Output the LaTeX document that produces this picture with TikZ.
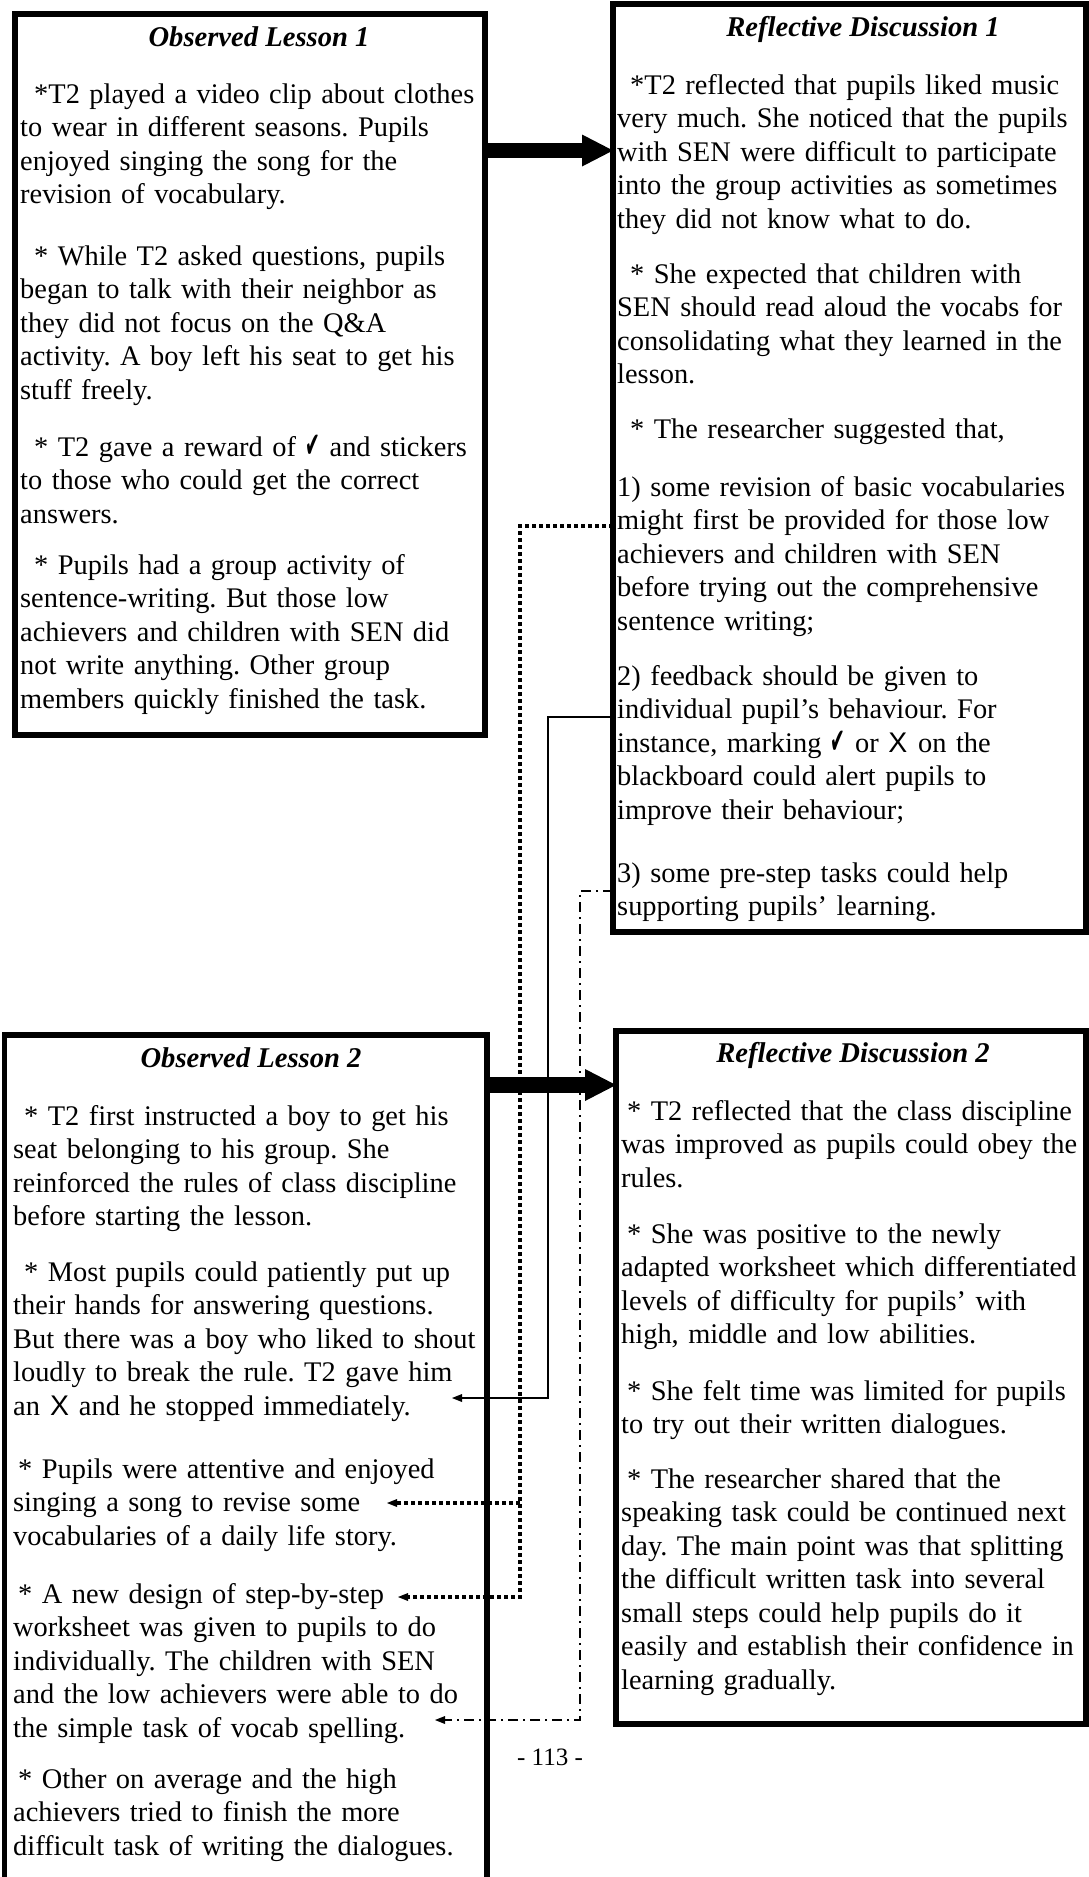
\documentclass[tikz,border=0pt]{standalone}
\usepackage{fontspec}
\usepackage{graphicx}
\setmainfont{Liberation Serif}[Ligatures=CommonOff]
\newfontfamily\symbolfamily{DejaVu Sans}
\newfontfamily\sansXfamily{Liberation Sans}
\usetikzlibrary{arrows.meta}
\frenchspacing

% tick and cross marks used in the notes
\newcommand{\markok}{\raisebox{-1pt}{\scalebox{0.62}[1.25]{\symbolfamily ✔}}}
\newcommand{\markx}{{\sansXfamily X}}

\begin{document}
\begin{tikzpicture}[x=1pt,y=-1pt,
  panel/.style={draw, line width=#1, inner sep=0pt, outer sep=0pt, anchor=north west},
  heading/.style={font=\fontsize{28.6pt}{33.5pt}\selectfont\bfseries\itshape, anchor=base, inner sep=0pt},
  para/.style={font=\fontsize{28.4pt}{33.5pt}\selectfont, anchor=base west, inner sep=0pt,
               text width=480pt, align=left},
  bigarrow/.style={line width=15.5pt, -{Triangle[length=31pt,width=32pt,line width=0pt]}},
  smalltip/.style={-{Triangle[length=10pt,width=8pt,line width=0pt]}},
  dotlink/.style={line width=3.6pt, dash pattern=on 3.6pt off 3.4pt},
  solidlink/.style={line width=1.3pt},
  dashdotlink/.style={line width=1.7pt, dash pattern=on 10pt off 5pt on 2pt off 5pt},
  pagenum/.style={font=\fontsize{25pt}{30pt}\selectfont, anchor=base, inner sep=0pt}
]
\useasboundingbox (0,0) rectangle (1089,1877);
\clip (0,0) rectangle (1089,1877);

% ---------- the four panels ----------
\node[panel=5.5pt, minimum width=470pt, minimum height=721pt] (ol1) at (15,14) {};
\node[panel=6pt, minimum width=473pt, minimum height=928pt] (rd1) at (613,4) {};
\node[panel=5.5pt, minimum width=482.5pt, minimum height=900pt] (ol2) at (4.5,1035) {};
\node[panel=6pt, minimum width=470pt, minimum height=693pt] (rd2) at (616,1031) {};

% ---------- Observed Lesson 1 ----------
\node[heading] (ol1t) at (259,46) {Observed Lesson 1};
\node[para] (ol1p1) at (20,103) {\hspace*{14pt}*T2 played a video clip about clothes\\
to wear in different seasons. Pupils\\
enjoyed singing the song for the\\
revision of vocabulary.};
\node[para] (ol1p2) at (20,265) {\hspace*{14pt}* While T2 asked questions, pupils\\
began to talk with their neighbor as\\
they did not focus on the Q\&A\\
activity. A boy left his seat to get his\\
stuff freely.};
\node[para] (ol1p3) at (20,456) {\hspace*{14pt}* T2 gave a reward of \markok{} and stickers\\
to those who could get the correct\\
answers.};
\node[para] (ol1p4) at (20,574) {\hspace*{14pt}* Pupils had a group activity of\\
sentence-writing. But those low\\
achievers and children with SEN did\\
not write anything. Other group\\
members quickly finished the task.};

% ---------- Reflective Discussion 1 ----------
\node[heading] (rd1t) at (863,36) {Reflective Discussion 1};
\node[para] (rd1p1) at (617,94) {\hspace*{13pt}*T2 reflected that pupils liked music\\
very much. She noticed that the pupils\\
with SEN were difficult to participate\\
into the group activities as sometimes\\
they did not know what to do.};
\node[para] (rd1p2) at (617,283) {\hspace*{13pt}* She expected that children with\\
SEN should read aloud the vocabs for\\
consolidating what they learned in the\\
lesson.};
\node[para] (rd1p3) at (617,438) {\hspace*{13pt}* The researcher suggested that,};
\node[para] (rd1p4) at (617,496) {1) some revision of basic vocabularies\\
might first be provided for those low\\
achievers and children with SEN\\
before trying out the comprehensive\\
sentence writing;};
\node[para] (rd1p5) at (617,685) {2) feedback should be given to\\
individual pupil’s behaviour. For\\
instance, marking \markok{} or \markx\hspace{11pt}on the\\
blackboard could alert pupils to\\
improve their behaviour;};
\node[para] (rd1p6) at (617,882) {3) some pre-step tasks could help\\
supporting pupils’ learning.};

% ---------- Observed Lesson 2 ----------
\node[heading] (ol2t) at (251,1067) {Observed Lesson 2};
\node[para] (ol2p1) at (13,1125) {\hspace*{11pt}* T2 first instructed a boy to get his\\
seat belonging to his group. She\\
reinforced the rules of class discipline\\
before starting the lesson.};
\node[para] (ol2p2) at (13,1281) {\hspace*{11pt}* Most pupils could patiently put up\\
their hands for answering questions.\\
But there was a boy who liked to shout\\
loudly to break the rule. T2 gave him\\
an\hspace{10pt}\markx\hspace{10pt}and he stopped immediately.};
\node[para] (ol2p3) at (13,1478) {\hspace*{5pt}* Pupils were attentive and enjoyed\\
singing a song to revise some\\
vocabularies of a daily life story.};
\node[para] (ol2p4) at (13,1603) {\hspace*{5pt}* A new design of step-by-step\\
worksheet was given to pupils to do\\
individually. The children with SEN\\
and the low achievers were able to do\\
the simple task of vocab spelling.};
\node[para] (ol2p5) at (13,1788) {\hspace*{5pt}* Other on average and the high\\
achievers tried to finish the more\\
difficult task of writing the dialogues.};

% ---------- Reflective Discussion 2 ----------
\node[heading] (rd2t) at (853,1062) {Reflective Discussion 2};
\node[para] (rd2p1) at (621,1120) {\hspace*{6pt}* T2 reflected that the class discipline\\
was improved as pupils could obey the\\
rules.};
\node[para] (rd2p2) at (621,1243) {\hspace*{6pt}* She was positive to the newly\\
adapted worksheet which differentiated\\
levels of difficulty for pupils’ with\\
high, middle and low abilities.};
\node[para] (rd2p3) at (621,1400) {\hspace*{6pt}* She felt time was limited for pupils\\
to try out their written dialogues.};
\node[para] (rd2p4) at (621,1488) {\hspace*{6pt}* The researcher shared that the\\
speaking task could be continued next\\
day. The main point was that splitting\\
the difficult written task into several\\
small steps could help pupils do it\\
easily and establish their confidence in\\
learning gradually.};

% ---------- lesson -> discussion arrows ----------
\coordinate (a1) at (0,150.5);
\coordinate (a2) at (0,1085);
\draw[bigarrow] (ol1.east |- a1) -- (rd1.west |- a1);
\draw[bigarrow] (ol2.east |- a2) -- (rd2.west |- a2);

% ---------- suggestion 1: dotted links ----------
\coordinate (dotTop) at (0,526);
\coordinate (dotBend) at (520,1597);
\coordinate (dotSplit) at (520,1503);
\coordinate (stepEnd) at (398,1597);
\coordinate (songEnd) at (387,1503);
\draw[dotlink, smalltip] (rd1.west |- dotTop) -| (dotBend) -- (stepEnd);
\draw[dotlink, smalltip] (dotSplit) -- (songEnd);

% ---------- suggestion 2: thin solid link ----------
\coordinate (solTop) at (0,717);
\coordinate (solBend) at (548,1398);
\coordinate (solEnd) at (452,1398);
\draw[solidlink, smalltip] (rd1.west |- solTop) -| (solBend) -- (solEnd);

% ---------- suggestion 3: dash-dot link ----------
\coordinate (ddTop) at (0,891);
\coordinate (ddBend) at (580,1720);
\coordinate (ddEnd) at (435,1720);
\draw[dashdotlink, smalltip] (rd1.west |- ddTop) -| (ddBend) -- (ddEnd);

% ---------- page number ----------
\node[pagenum] (pageno) at (550,1765) {- 113 -};
\end{tikzpicture}
\end{document}
